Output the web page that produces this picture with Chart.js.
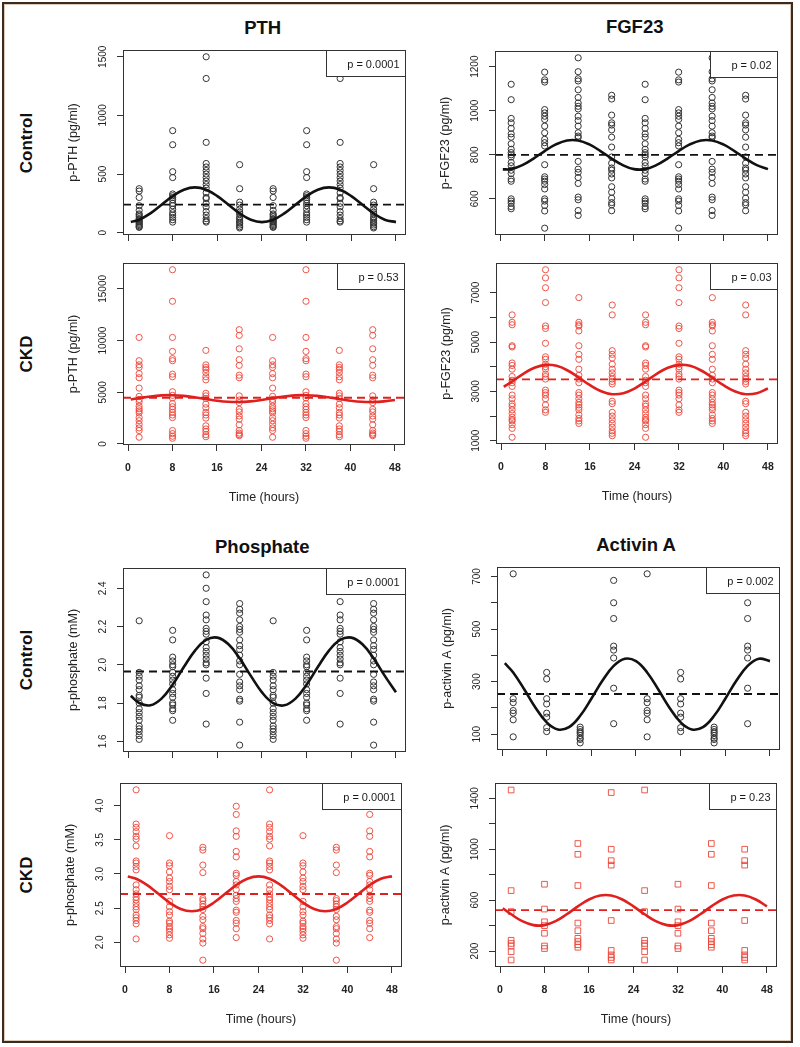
<!DOCTYPE html>
<html>
<head>
<meta charset="utf-8">
<script src="https://cdn.jsdelivr.net/npm/chart.js@4.4.1/dist/chart.umd.min.js"></script>
<style>
  html, body { margin: 0; padding: 0; background: #ffffff; }
  #page { position: relative; width: 800px; height: 1047px; overflow: hidden; background: #fff;
          font-family: 'Liberation Sans', Arial, Helvetica, sans-serif; color: #111; }
  #frame { position: absolute; left: 2px; top: 2px; width: 787px; height: 1037px;
           border: 2px solid #3a2a1f; box-shadow: inset 0 0 0 1px #dccbb9; }
  canvas { position: absolute; }
  .ptitle { position: absolute; width: 200px; text-align: center; font-weight: bold;
            font-size: 18.5px; line-height: 18.5px; white-space: nowrap; }
  .rowlab { position: absolute; width: 200px; height: 20px; text-align: center; font-weight: bold;
            font-size: 17px; line-height: 20px; transform: rotate(-90deg); white-space: nowrap; }
</style>
</head>
<body>
<div id="page">
  <div id="frame"></div>
  <div class="ptitle" style="left:162.7px; top:19.3px;">PTH</div>
  <div class="ptitle" style="left:534.7px; top:17.7px;">FGF23</div>
  <div class="ptitle" style="left:162.3px; top:538.3px;">Phosphate</div>
  <div class="ptitle" style="left:536px; top:536px;">Activin A</div>
  <div class="rowlab" style="left:-73px; top:132.5px;">Control</div>
  <div class="rowlab" style="left:-73px; top:344px;">CKD</div>
  <div class="rowlab" style="left:-73px; top:650px;">Control</div>
  <div class="rowlab" style="left:-73px; top:865px;">CKD</div>
</div>
<script>
// ---------------- DATA ----------------
// x axis (hours)
const timeTicks = [0, 8, 16, 24, 32, 40, 48];
const timeTickLabels = ['0', '8', '16', '24', '32', '40', '48'];
// sampling clock times; the data are double-plotted (t and t + 24 h)
const clockTimes = [2, 8, 14, 20];
const replotShift = [0, 24];
// times at which the fitted cosinor curves are read
const curveTimes = [0.5, 2, 4, 6, 8, 10, 12, 14, 16, 18, 20, 22, 24, 26, 28, 30, 32, 34, 36, 38, 40, 42, 44, 46, 48];

// PTH – Control (pg/ml), columns: 2h, 8h, 14h, 20h
const pthControl = [
  [375, 355, 300, 230, 190, 160, 150, 135, 120, 110, 100, 90, 80, 70, 60, 50, 45],
  [870, 750, 520, 470, 330, 315, 300, 280, 250, 230, 200, 170, 150, 130, 110, 90],
  [1500, 1315, 770, 590, 560, 530, 500, 470, 440, 410, 380, 340, 300, 290, 250, 220, 180, 150, 120, 100, 90],
  [580, 375, 260, 235, 200, 175, 160, 135, 120, 105, 90, 80, 65, 50, 40]
];
const pthControlFit = [91, 110, 164, 238, 312, 366, 386, 366, 312, 238, 164, 110, 90, 110, 164, 238, 312, 366, 386, 366, 312, 238, 164, 110, 90];
const pthControlMean = 239;
const pthControlTicks = [0, 500, 1000, 1500];
const pthControlTickLabels = ['0', '500', '1000', '1500'];

// FGF23 – Control (pg/ml)
const fgfControl = [
  [1120, 1050, 965, 945, 920, 895, 880, 850, 825, 810, 800, 790, 765, 750, 730, 715, 690, 680, 600, 590, 580, 565, 555],
  [1175, 1140, 1130, 1005, 990, 975, 960, 930, 900, 870, 855, 840, 755, 700, 690, 680, 665, 645, 600, 590, 570, 545, 467],
  [1240, 1177, 1145, 1135, 1095, 1060, 1035, 1020, 1008, 975, 955, 930, 900, 885, 878, 770, 735, 720, 697, 670, 608, 596, 547, 525],
  [1070, 1053, 980, 945, 935, 913, 880, 835, 790, 762, 740, 730, 713, 695, 655, 630, 603, 583, 573, 546]
];
const fgfControlFit = [734, 735, 753, 783, 817, 847, 865, 865, 847, 817, 783, 753, 735, 735, 753, 783, 817, 847, 865, 865, 847, 817, 783, 753, 735];
const fgfControlMean = 800;
const fgfControlTicks = [600, 800, 1000, 1200];
const fgfControlTickLabels = ['600', '800', '1000', '1200'];

// PTH – CKD (pg/ml)
const pthCkd = [
  [10300, 8050, 7650, 7400, 6800, 6400, 5400, 4600, 4300, 4050, 3650, 3400, 3200, 3000, 2550, 2250, 1900, 1550, 1300, 650],
  [16850, 13800, 10300, 8950, 8250, 8050, 6750, 6500, 5050, 4700, 4450, 3900, 3600, 3350, 3050, 2800, 2550, 1300, 1000, 750, 550],
  [9050, 7650, 7400, 7200, 6900, 6500, 6200, 4900, 4650, 4400, 3850, 3500, 3050, 2800, 2500, 1750, 1450, 1200, 900, 700],
  [11050, 10500, 9200, 8150, 7600, 6650, 6400, 4650, 4250, 4000, 3350, 3100, 2700, 2400, 1850, 1300, 1050, 900, 800]
];
const pthCkdFit = [4298, 4429, 4589, 4695, 4717, 4651, 4513, 4341, 4181, 4075, 4053, 4119, 4257, 4429, 4589, 4695, 4717, 4651, 4513, 4341, 4181, 4075, 4053, 4119, 4257];
const pthCkdMean = 4470;
const pthCkdTicks = [0, 5000, 10000, 15000];
const pthCkdTickLabels = ['0', '5000', '10000', '15000'];

// FGF23 – CKD (pg/ml)
const fgfCkd = [
  [6100, 5800, 5700, 4850, 4800, 4150, 4050, 3900, 3600, 3450, 3350, 3200, 2850, 2700, 2500, 2400, 2250, 2100, 1950, 1850, 1800, 1650, 1500, 1140],
  [7930, 7600, 7200, 6600, 5650, 5550, 4950, 4400, 4300, 4100, 4000, 3900, 3700, 3600, 3500, 3050, 2950, 2850, 2700, 2450, 2250, 2150],
  [6800, 5800, 5700, 5650, 5450, 4850, 4500, 4300, 3900, 3650, 3500, 3350, 2950, 2850, 2700, 2550, 2450, 2350, 2250, 2050, 1900, 1800, 1700],
  [6500, 6100, 4650, 4500, 4350, 4100, 3900, 3750, 3600, 3500, 3400, 3300, 2600, 2500, 2150, 2000, 1850, 1700, 1550, 1400, 1300, 1200]
];
const fgfCkdFit = [3180, 3401, 3710, 3956, 4075, 4034, 3845, 3559, 3250, 3004, 2885, 2926, 3115, 3401, 3710, 3956, 4075, 4034, 3845, 3559, 3250, 3004, 2885, 2926, 3115];
const fgfCkdMean = 3487;
const fgfCkdTicks = [1000, 2000, 3000, 4000, 5000, 6000, 7000];
const fgfCkdTickLabels = ['1000', '', '3000', '', '5000', '', '7000'];

// Phosphate – Control (mM)
const phosControl = [
  [2.23, 1.96, 1.94, 1.92, 1.89, 1.87, 1.84, 1.83, 1.80, 1.77, 1.75, 1.73, 1.71, 1.68, 1.665, 1.65, 1.63, 1.61],
  [2.18, 2.13, 2.04, 2.02, 2.00, 1.99, 1.96, 1.94, 1.92, 1.90, 1.87, 1.85, 1.83, 1.80, 1.79, 1.77, 1.76, 1.71],
  [2.47, 2.40, 2.33, 2.26, 2.235, 2.19, 2.175, 2.16, 2.12, 2.09, 2.07, 2.05, 2.03, 2.01, 2.00, 1.93, 1.85, 1.69],
  [2.32, 2.29, 2.27, 2.235, 2.20, 2.185, 2.17, 2.13, 2.10, 2.08, 2.05, 2.02, 2.00, 1.95, 1.91, 1.89, 1.87, 1.82, 1.81, 1.70, 1.58]
];
const phosControlFit = [1.838, 1.800, 1.788, 1.823, 1.896, 1.988, 2.074, 2.130, 2.142, 2.107, 2.034, 1.942, 1.856, 1.800, 1.788, 1.823, 1.896, 1.988, 2.074, 2.130, 2.142, 2.107, 2.034, 1.942, 1.856];
const phosControlMean = 1.965;
const phosControlTicks = [1.6, 1.8, 2.0, 2.2, 2.4];
const phosControlTickLabels = ['1.6', '1.8', '2.0', '2.2', '2.4'];

// Activin A – Control (pg/ml)
const activinControl = [
  [710, 235, 220, 190, 180, 155, 90],
  [335, 310, 235, 215, 180, 165, 125, 110],
  [127, 118, 110, 104, 95, 85, 80, 67],
  [685, 600, 540, 435, 420, 390, 275, 140]
];
const activinControlFit = [370, 335, 270, 201, 145, 118, 127, 170, 235, 304, 360, 387, 378, 335, 270, 201, 145, 118, 127, 170, 235, 304, 360, 387, 378];
const activinControlMean = 253;
const activinControlTicks = [100, 200, 300, 400, 500, 600, 700];
const activinControlTickLabels = ['100', '', '300', '', '500', '', '700'];

// Phosphate – CKD (mM)
const phosCkd = [
  [4.23, 3.73, 3.68, 3.62, 3.55, 3.51, 3.41, 3.19, 3.16, 3.11, 3.06, 2.84, 2.77, 2.71, 2.66, 2.62, 2.57, 2.52, 2.48, 2.40, 2.36, 2.32, 2.27, 2.05],
  [3.56, 3.16, 3.12, 3.03, 2.94, 2.89, 2.82, 2.77, 2.60, 2.52, 2.45, 2.40, 2.31, 2.28, 2.23, 2.20, 2.16, 2.11, 2.06],
  [3.39, 3.35, 3.13, 3.02, 2.64, 2.61, 2.56, 2.52, 2.48, 2.38, 2.33, 2.23, 2.20, 2.13, 2.05, 1.99, 1.74],
  [3.99, 3.87, 3.63, 3.55, 3.33, 3.25, 3.01, 2.98, 2.89, 2.84, 2.77, 2.69, 2.64, 2.60, 2.47, 2.44, 2.32, 2.28, 2.20, 2.07]
];
const phosCkdFit = [2.963, 2.931, 2.838, 2.710, 2.583, 2.489, 2.455, 2.489, 2.583, 2.710, 2.838, 2.931, 2.965, 2.931, 2.838, 2.710, 2.583, 2.489, 2.455, 2.489, 2.583, 2.710, 2.838, 2.931, 2.965];
const phosCkdMean = 2.707;
const phosCkdTicks = [2.0, 2.5, 3.0, 3.5, 4.0];
const phosCkdTickLabels = ['2.0', '2.5', '3.0', '3.5', '4.0'];

// Activin A – CKD (pg/ml)
const activinCkd = [
  [1465, 675, 510, 285, 260, 240, 195, 130],
  [725, 530, 430, 400, 340, 240, 220],
  [1045, 960, 715, 420, 360, 300, 275, 250, 230],
  [1445, 1000, 910, 875, 440, 205, 170, 150, 130]
];
const activinCkdFit = [536, 489, 435, 404, 404, 435, 489, 551, 605, 636, 636, 605, 551, 489, 435, 404, 404, 435, 489, 551, 605, 636, 636, 605, 551];
const activinCkdMean = 522;
const activinCkdTicks = [200, 400, 600, 800, 1000, 1200, 1400];
const activinCkdTickLabels = ['200', '', '600', '', '1000', '', '1400'];

// ---------------- LAYOUT / STYLE ----------------
const FONT = "'Liberation Sans', Arial, Helvetica, sans-serif";
const X_MIN = -0.9, X_MAX = 49.8;
const AXIS_W = 80, PAD_T = 6, PAD_R = 6;
const BLACK = { point: '#333333', line: '#111111' };
const RED = { point: 'rgba(236,70,56,0.9)', line: '#e0201e' };

const panels = [
  { box: [123, 50, 283, 185], values: pthControl, fit: pthControlFit, mean: pthControlMean, yRange: [-20, 1558],
    yTicks: pthControlTicks, yLabels: pthControlTickLabels, yTitle: 'p-PTH (pg/ml)', p: 'p = 0.0001', col: BLACK, showX: false },
  { box: [495, 51, 283, 184], values: fgfControl, fit: fgfControlFit, mean: fgfControlMean, yRange: [436, 1271],
    yTicks: fgfControlTicks, yLabels: fgfControlTickLabels, yTitle: 'p-FGF23 (pg/ml)', p: 'p = 0.02', col: BLACK, showX: false },
  { box: [123, 263, 283, 182], values: pthCkd, fit: pthCkdFit, mean: pthCkdMean, yRange: [-102, 17502],
    yTicks: pthCkdTicks, yLabels: pthCkdTickLabels, yTitle: 'p-PTH (pg/ml)', p: 'p = 0.53', col: RED, showX: true },
  { box: [496, 263, 283, 181], values: fgfCkd, fit: fgfCkdFit, mean: fgfCkdMean, yRange: [866, 8204],
    yTicks: fgfCkdTicks, yLabels: fgfCkdTickLabels, yTitle: 'p-FGF23 (pg/ml)', p: 'p = 0.03', col: RED, showX: true },
  { box: [123, 568, 283, 184], values: phosControl, fit: phosControlFit, mean: phosControlMean, yRange: [1.544, 2.506],
    yTicks: phosControlTicks, yLabels: phosControlTickLabels, yTitle: 'p-phosphate (mM)', p: 'p = 0.0001', col: BLACK, showX: false },
  { box: [497, 567, 283, 183], values: activinControl, fit: activinControlFit, mean: activinControlMean, yRange: [40, 736],
    yTicks: activinControlTicks, yLabels: activinControlTickLabels, yTitle: 'p-activin A (pg/ml)', p: 'p = 0.002', col: BLACK, showX: false },
  { box: [120, 783, 283, 184], values: phosCkd, fit: phosCkdFit, mean: phosCkdMean, yRange: [1.640, 4.330],
    yTicks: phosCkdTicks, yLabels: phosCkdTickLabels, yTitle: 'p-phosphate (mM)', p: 'p = 0.0001', col: RED, showX: true },
  { box: [495, 783, 283, 184], values: activinCkd, fit: activinCkdFit, mean: activinCkdMean, yRange: [75, 1520],
    yTicks: activinCkdTicks, yLabels: activinCkdTickLabels, yTitle: 'p-activin A (pg/ml)', p: 'p = 0.23', col: RED, showX: true, pointStyle: 'rect' }
];

function drawDecor(chart, cfg) {
  const ctx = chart.ctx, a = chart.chartArea;
  const L = Math.round(a.left) + 0.5, T = Math.round(a.top) + 0.5;
  const R = Math.round(a.right) - 0.5, B = Math.round(a.bottom) - 0.5;
  ctx.save();
  // p-value legend box (top right, white fill over the points)
  ctx.font = '11px ' + FONT;
  const tw = ctx.measureText(cfg.p).width;
  const bw = Math.round(tw + 27), bh = 26;
  const bx = R - bw, by = T;
  ctx.fillStyle = '#ffffff';
  ctx.fillRect(bx, by, bw, bh);
  ctx.strokeStyle = '#333333';
  ctx.lineWidth = 1;
  ctx.strokeRect(bx, by, bw, bh);
  ctx.fillStyle = '#1a1a1a';
  ctx.textAlign = 'right';
  ctx.textBaseline = 'middle';
  ctx.fillText(cfg.p, R - 6, by + bh / 2 + 1);
  // plot box
  ctx.strokeRect(L, T, R - L, B - T);
  // rotated y tick labels at the scale's tick positions
  const ys = chart.scales.y;
  ctx.font = '10px ' + FONT;
  ctx.fillStyle = '#222222';
  ctx.textAlign = 'center';
  ctx.textBaseline = 'alphabetic';
  cfg.yTicks.forEach((v, i) => {
    const lab = cfg.yLabels[i];
    if (!lab) return;
    const py = ys.getPixelForValue(v);
    ctx.save();
    ctx.translate(a.left - 17, py);
    ctx.rotate(-Math.PI / 2);
    ctx.fillText(lab, 0, 0);
    ctx.restore();
  });
  ctx.restore();
}

function makePanel(cfg) {
  const [bl, bt, bwid, bhgt] = cfg.box;
  const xH = cfg.showX ? 64 : 10;
  const W = AXIS_W + bwid + PAD_R, H = PAD_T + bhgt + xH;
  const cv = document.createElement('canvas');
  cv.width = W; cv.height = H;
  cv.style.left = (bl - AXIS_W) + 'px';
  cv.style.top = (bt - PAD_T) + 'px';
  cv.style.width = W + 'px'; cv.style.height = H + 'px';
  document.getElementById('page').appendChild(cv);

  const pts = [];
  replotShift.forEach(s => clockTimes.forEach((t, i) => cfg.values[i].forEach(v => pts.push({ x: t + s, y: v }))));
  const fit = curveTimes.map((t, i) => ({ x: t, y: cfg.fit[i] }));
  const meanLine = [{ x: X_MIN, y: cfg.mean }, { x: X_MAX, y: cfg.mean }];

  const gridOpts = { display: true, drawOnChartArea: false, drawTicks: true, tickLength: 6, color: '#333333', lineWidth: 1 };

  new Chart(cv, {
    type: 'scatter',
    data: {
      datasets: [
        { data: fit, showLine: true, borderColor: cfg.col.line, borderWidth: 2.6, pointRadius: 0, tension: 0.4, fill: false },
        { data: meanLine, showLine: true, borderColor: cfg.col.line, borderWidth: 1.8, borderDash: [8, 5], pointRadius: 0, fill: false },
        { data: pts, pointStyle: cfg.pointStyle || 'circle', pointRadius: cfg.pointStyle === 'rect' ? 4 : 3.1,
          borderWidth: 1, borderColor: cfg.col.point, backgroundColor: 'rgba(0,0,0,0)' }
      ]
    },
    options: {
      responsive: false, animation: false, devicePixelRatio: 1,
      events: [],
      layout: { padding: { top: PAD_T, right: PAD_R, left: 0, bottom: 0 } },
      plugins: { legend: { display: false }, tooltip: { enabled: false } },
      scales: {
        x: {
          type: 'linear', min: X_MIN, max: X_MAX,
          afterBuildTicks: s => { s.ticks = timeTicks.map(v => ({ value: v })); },
          afterFit: s => { s.height = xH; },
          grid: gridOpts,
          border: { display: false },
          ticks: { display: cfg.showX, autoSkip: false, maxRotation: 0, minRotation: 0, padding: 11, color: '#222222',
                   font: { family: FONT, size: 10.5, weight: 'bold' }, callback: (v, i) => timeTickLabels[i] },
          title: { display: cfg.showX, text: 'Time (hours)', color: '#222222', font: { family: FONT, size: 12.5 },
                   padding: { top: 0, bottom: 3.5 } }
        },
        y: {
          type: 'linear', min: cfg.yRange[0], max: cfg.yRange[1],
          afterBuildTicks: s => { s.ticks = cfg.yTicks.map(v => ({ value: v })); },
          afterFit: s => { s.width = AXIS_W; },
          grid: gridOpts,
          border: { display: false },
          ticks: { display: false },
          title: { display: true, text: cfg.yTitle, color: '#222222', font: { family: FONT, size: 12.5 },
                   padding: { top: 23.5, bottom: 0 } }
        }
      }
    },
    plugins: [{ id: 'decor', afterDatasetsDraw(chart) { drawDecor(chart, cfg); } }]
  });
}

panels.forEach(makePanel);
</script>
</body>
</html>
